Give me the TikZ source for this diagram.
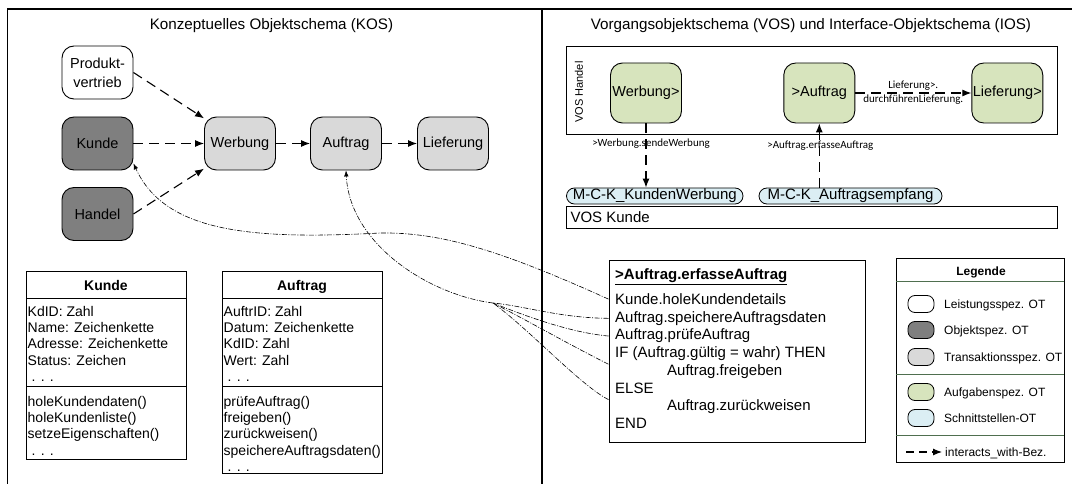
\documentclass[tikz,border=0pt]{standalone}
\usepackage{fontspec}
\setmainfont{Liberation Sans}
\newfontfamily\calibri{Carlito}
\usetikzlibrary{arrows.meta}
\usetikzlibrary{calc}
\usetikzlibrary{positioning}
\definecolor{dgray}{HTML}{7F7F7F}
\definecolor{lgray}{HTML}{D9D9D9}
\definecolor{lgreen}{HTML}{D7E4BD}
\definecolor{lblue}{HTML}{DBEEF4}
\definecolor{sepgreen}{HTML}{4F6F4F}

\begin{document}
\begin{tikzpicture}[x=1pt, y=-1pt, >={Latex[length=9pt,width=7pt]},
    every node/.style={font=\fontsize{14.5}{19}\selectfont},
    ot/.style={draw, line width=0.9pt, rounded corners=12pt, minimum width=71pt, minimum height=53pt, inner sep=1pt, align=center},
    iw/.style={->, dash pattern=on 10pt off 6pt, line width=1.1pt},
    callrel/.style={dash pattern=on 5pt off 1.5pt on 1pt off 1.5pt, line width=0.6pt, >={Latex[length=6pt,width=4.5pt]}},
    cls/.style={align=left, inner sep=0pt, font=\fontsize{14}{16.3}\selectfont},
    clshead/.style={inner sep=0pt, font=\bfseries\fontsize{14}{16}\selectfont},
    codeln/.style={anchor=base west, inner sep=0pt, font=\fontsize{15}{17.7}\selectfont},
    lbl/.style={inner sep=0pt, font=\calibri\fontsize{11}{13}\selectfont},
    pill/.style={draw, fill=lblue, rounded corners=8pt, minimum height=16pt, inner sep=0pt, line width=0.8pt, font=\fontsize{15}{17}\selectfont},
    sym/.style={draw, rounded corners=7pt, minimum width=26pt, minimum height=17pt, inner sep=0pt, line width=0.8pt},
    leg/.style={anchor=base west, inner sep=0pt, font=\fontsize{12}{14}\selectfont},
    paneltitle/.style={anchor=base, inner sep=0pt, font=\fontsize{15.2}{18}\selectfont}]
    \useasboundingbox (0,0) rectangle (1072,484);

    % frame
    \draw[line width=1.2pt] (7.6,484) -- (7.6,9) -- (1072,9);
    \draw[line width=1.2pt] (542,9) -- (542,484);
    \node[paneltitle] (kostitle) at (271.5,29.3) {Konzeptuelles Objektschema (KOS)};
    \node[paneltitle] (iostitle) at (811,29.3) {Vorgangsobjektschema (VOS) und Interface-Objektschema (IOS)};

    % KOS
    \node[ot, fill=white] (pv) at (97.5,72.5) {Produkt-\\vertrieb};
    \node[ot, fill=dgray] (kd) at (97.5,143.5) {Kunde};
    \node[ot, fill=dgray] (hd) at (97.5,214) {Handel};
    \node[ot, fill=lgray] (wb) at (240,143.5) {Werbung};
    \node[ot, fill=lgray] (af) at (346,143.5) {Auftrag};
    \node[ot, fill=lgray] (lf) at (453,143.5) {Lieferung};

    \draw[iw] (pv.east) -- (wb.145);
    \draw[iw] (kd) -- (wb);
    \draw[iw] (hd.east) -- (wb.215);
    \draw[iw] (wb) -- (af);
    \draw[iw] (af) -- (lf);

    % class Kunde
    \draw[line width=0.8pt] (26,271) rectangle (186,459);
    \draw[line width=0.8pt] (26,298) -- (186,298);
    \draw[line width=0.8pt] (26,386) -- (186,386);
    \node[clshead, anchor=base] (kdhead) at (106,290) {Kunde};
    \node[cls, anchor=north west] (kdattr) at (27.5,306) {KdID: Zahl\\Name: Zeichenkette\\Adresse: Zeichenkette\\Status: Zeichen\\\hspace*{4pt}. . .};
    \node[cls, anchor=north west] (kdmeth) at (27.5,396) {holeKundendaten()\\holeKundenliste()\\setzeEigenschaften()\\\hspace*{4pt}. . .};

    % class Auftrag
    \draw[line width=0.8pt] (222,271) rectangle (382,473);
    \draw[line width=0.8pt] (222,298) -- (382,298);
    \draw[line width=0.8pt] (222,386) -- (382,386);
    \node[clshead, anchor=base] (afhead) at (302,290) {Auftrag};
    \node[cls, anchor=north west] (afattr) at (223.5,306) {AuftrID: Zahl\\Datum: Zeichenkette\\KdID: Zahl\\Wert: Zahl\\\hspace*{4pt}. . .};
    \node[cls, anchor=north west] (afmeth) at (223.5,396) {prüfeAuftrag()\\freigeben()\\zurückweisen()\\speichereAuftragsdaten()\\\hspace*{4pt}. . .};

    % VOS Handel
    \node[draw, line width=0.9pt, minimum width=491pt, minimum height=88pt] (vosh) at (812,90) {};
    \node[rotate=90, font=\fontsize{11}{13}\selectfont] (voshlbl) at (579,92) {VOS Handel};
    \node[ot, fill=lgreen, minimum height=60pt] (wb2) at (646,93) {Werbung>};
    \node[ot, fill=lgreen, minimum height=60pt] (af2) at (819.3,93) {>Auftrag};
    \node[ot, fill=lgreen, minimum height=60pt] (lf2) at (1007.3,93) {Lieferung>};
    \draw[iw] (af2) -- node[lbl, yshift=7pt] (lfup) {Lieferung>.} node[lbl, yshift=-7pt] (lfdown) {durchführenLieferung.} (lf2);

    % VOS Kunde
    \node[pill, minimum width=176.5pt] (mck1) at (654.75,196) {M-C-K\_KundenWerbung};
    \node[pill, minimum width=183pt] (mck2) at (850.5,196) {M-C-K\_Auftragsempfang};
    \node[draw, line width=0.9pt, minimum width=491pt, minimum height=22pt] (vosk) at (812,217) {};
    \node[anchor=west, font=\fontsize{15}{17}\selectfont] (vosklbl) at (567,217) {VOS Kunde};

    \draw[iw] (wb2) -- node[lbl, pos=.32, xshift=5pt] (sendelbl) {>Werbung.sendeWerbung} (wb2.south |- mck1.north);
    \draw[iw] (af2.south |- mck2.north) -- node[lbl, pos=.66, xshift=1pt] (erflbl) {>Auftrag.erfasseAuftrag} (af2);

    % code
    \node[draw, line width=1pt, minimum width=256pt, minimum height=182pt] (code) at (737,351) {};
    \node[codeln, font=\bfseries\fontsize{15}{17.7}\selectfont] (cl0) at (615,279.5) {\underline{>Auftrag.erfasseAuftrag}};
    \node[codeln] (cl1) at (615,304.5) {Kunde.holeKundendetails};
    \node[codeln] (cl2) at (615,322.2) {Auftrag.speichereAuftragsdaten};
    \node[codeln] (cl3) at (615,339.9) {Auftrag.prüfeAuftrag};
    \node[codeln] (cl4) at (615,357.6) {IF (Auftrag.gültig = wahr) THEN};
    \node[codeln] (cl5) at (667,375.3) {Auftrag.freigeben};
    \node[codeln] (cl6) at (615,393) {ELSE};
    \node[codeln] (cl7) at (667,410.7) {Auftrag.zurückweisen};
    \node[codeln] (cl8) at (615,428.4) {END};

    % calls
    \coordinate (hub) at (493,303);
    \draw[callrel, ->] (code.west |- cl1) .. controls (500,250) and (440,232) .. (380,233) .. controls (250,240) and (165,232) .. (kd.-29);
    \draw[callrel, ->] (hub) .. controls (430,295) and (350,245) .. (af.south);
    \draw[callrel] (code.west |- cl2) .. controls (560,318) and (525,306) .. (hub);
    \draw[callrel] (code.west |- cl3) .. controls (575,333) and (535,320) .. (hub);
    \draw[callrel] (code.west |- cl5.north) .. controls (570,345) and (530,322) .. (hub);
    \draw[callrel] (code.west |- cl7.north) .. controls (580,385) and (530,330) .. (hub);

    % legend
    \node[draw, line width=0.9pt, minimum width=168pt, minimum height=204pt] (legend) at (980,360) {};
    \node[anchor=base, inner sep=0pt, font=\bfseries\fontsize{12}{14}\selectfont] (legtitle) at (981,275.3) {Legende};
    \draw[sepgreen, line width=0.9pt] (legend.west |- 0,281) -- (legend.east |- 0,281);
    \draw[sepgreen, line width=0.9pt] (legend.west |- 0,374) -- (legend.east |- 0,374);
    \draw[sepgreen, line width=0.9pt] (legend.west |- 0,435) -- (legend.east |- 0,435);
    \node[sym, fill=white] (s1) at (921,304) {};
    \node[sym, fill=dgray] (s2) at (921,330) {};
    \node[sym, fill=lgray] (s3) at (921,357) {};
    \node[sym, fill=lgreen] (s4) at (921,392) {};
    \node[sym, fill=lblue] (s5) at (921,418) {};
    \node[leg] (t1) at (944,308.3) {Leistungsspez. OT};
    \node[leg] (t2) at (944,334.3) {Objektspez. OT};
    \node[leg] (t3) at (944,361.3) {Transaktionsspez. OT};
    \node[leg] (t4) at (944,396.3) {Aufgabenspez. OT};
    \node[leg] (t5) at (944,422.3) {Schnittstellen-OT};
    \coordinate (lga) at (906,452);
    \coordinate (lgb) at (942,452);
    \draw[->, dash pattern=on 8pt off 5pt, line width=1.1pt] (lga) -- (lgb);
    \node[leg] (t6) at (945,456.3) {interacts\_with-Bez.};
\end{tikzpicture}
\end{document}
